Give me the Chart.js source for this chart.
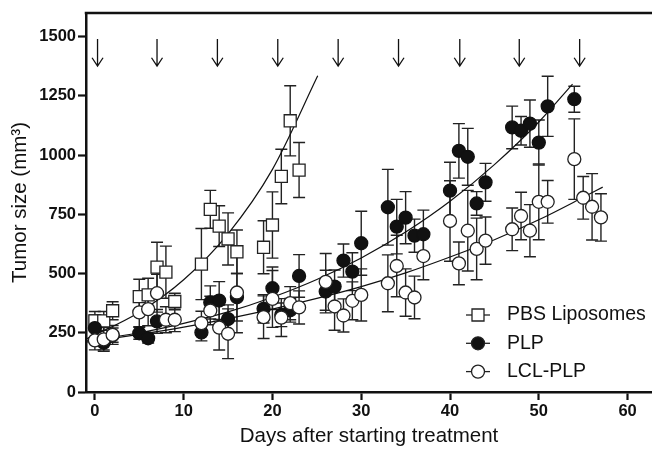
<!DOCTYPE html>
<html>
<head>
<meta charset="utf-8">
<script src="https://cdn.jsdelivr.net/npm/chart.js@4.4.0/dist/chart.umd.min.js"></script>
<style>html,body{margin:0;padding:0;background:#fff}</style>
</head>
<body>
<canvas id="grafTumor" width="652" height="449"></canvas>
<script>
// datos (dias / tamano medio / error)
var seriesNames = ['PBS Liposomes', 'PLP', 'LCL-PLP'];

var pbsDays = [0, 1, 2, 5, 6, 7, 8, 9, 12, 13, 14, 15, 16, 19, 20, 21, 22, 23];
var pbsMean = [300, 300, 343, 403, 410, 527, 506, 382, 540, 771, 700, 646, 592, 611, 705, 910, 1145, 937];
var pbsErr  = [40, 40, 38, 73, 70, 105, 110, 35, 150, 80, 86, 110, 92, 112, 140, 115, 148, 116];

var plpDays = [0, 1, 2, 5, 6, 7, 12, 13, 14, 15, 16, 19, 20, 21, 22, 23, 26, 27, 28, 29, 30, 33, 34, 35, 36, 37, 40, 41, 42, 43, 44, 47, 48, 49, 50, 51, 54];
var plpMean = [270, 208, 240, 248, 227, 298, 251, 378, 386, 308, 400, 351, 438, 326, 345, 490, 424, 445, 555, 508, 628, 780, 698, 736, 660, 666, 850, 1018, 993, 796, 885, 1117, 1103, 1133, 1053, 1206, 1236];
var plpErr  = [55, 30, 30, 25, 20, 50, 35, 70, 80, 60, 100, 60, 90, 50, 50, 90, 90, 70, 70, 80, 135, 160, 115, 110, 70, 102, 120, 115, 120, 50, 80, 90, 60, 100, 95, 127, 55];

var lclDays = [0, 1, 2, 5, 6, 7, 8, 9, 12, 13, 14, 15, 16, 19, 20, 21, 22, 23, 26, 27, 28, 29, 30, 33, 34, 35, 36, 37, 40, 41, 42, 43, 44, 47, 48, 49, 50, 51, 54, 55, 56, 57];
var lclMean = [218, 222, 241, 336, 350, 417, 305, 305, 291, 344, 272, 246, 420, 316, 393, 314, 375, 357, 465, 361, 323, 385, 410, 459, 532, 420, 399, 574, 722, 543, 681, 604, 639, 687, 743, 681, 803, 803, 983, 820, 782, 737];
var lclErr  = [40, 50, 40, 60, 70, 80, 55, 50, 50, 60, 95, 105, 170, 90, 120, 80, 70, 70, 120, 100, 70, 80, 110, 120, 130, 100, 90, 100, 170, 90, 170, 130, 100, 90, 100, 110, 160, 90, 170, 90, 140, 100];

// curvas de ajuste
var pbsFitDays = [-1, 5, 10, 15, 20, 25.1];
var pbsFitVals = [223, 337, 474, 668, 940, 1335];
var plpFitDays = [-1, 5, 10, 15, 20, 25, 30, 35, 40, 45, 50, 53.8];
var plpFitVals = [215, 250, 290, 338, 400, 475, 566, 675, 805, 960, 1140, 1300];
var lclFitDays = [-1, 5, 10, 15, 20, 25, 30, 35, 40, 45, 50, 55, 57.2];
var lclFitVals = [210, 243, 274, 310, 350, 395, 445, 503, 570, 643, 727, 822, 865];

// flechas de tratamiento
var arrowDays = [0.3, 7, 13.8, 20.6, 27.4, 34.2, 41.1, 47.8, 54.6];
var arrowTop = 1490;
var arrowTip = 1376;

var xTicks = [0, 10, 20, 30, 40, 50, 60];
var yTicks = [0, 250, 500, 750, 1000, 1250, 1500];

var FONT = "'Liberation Sans', Arial, sans-serif";

function toPts(xs, ys) {
    return xs.map(function (d, i) { return {x: d, y: ys[i]}; });
}

var series = [
    {days: pbsDays, mean: pbsMean, err: pbsErr, style: 'rect', fill: '#fff'},
    {days: plpDays, mean: plpMean, err: plpErr, style: 'circle', fill: '#111'},
    {days: lclDays, mean: lclMean, err: lclErr, style: 'circle', fill: '#fff'}
];

function drawMarker(ctx, style, x, y, fill) {
    ctx.beginPath();
    if (style === 'rect') {
        ctx.rect(x - 6, y - 6, 12, 12);
    } else {
        ctx.arc(x, y, 6.5, 0, Math.PI * 2);
    }
    ctx.fillStyle = fill;
    ctx.fill();
    ctx.lineWidth = 1.3;
    ctx.strokeStyle = '#222';
    ctx.stroke();
}

var extras = {
    id: 'extras',
    beforeDatasetsDraw: function (chart) {
        var ctx = chart.ctx, x = chart.scales.x, y = chart.scales.y;
        ctx.save();
        ctx.strokeStyle = '#222';
        ctx.lineWidth = 1.4;
        series.forEach(function (s) {
            s.days.forEach(function (d, i) {
                var px = x.getPixelForValue(d);
                var top = y.getPixelForValue(s.mean[i] + s.err[i]);
                var bot = y.getPixelForValue(Math.max(s.mean[i] - s.err[i], 0));
                ctx.beginPath();
                ctx.moveTo(px, top); ctx.lineTo(px, bot);
                ctx.moveTo(px - 6, top); ctx.lineTo(px + 6, top);
                ctx.moveTo(px - 6, bot); ctx.lineTo(px + 6, bot);
                ctx.stroke();
            });
        });
        ctx.restore();
    },
    afterDraw: function (chart) {
        var ctx = chart.ctx, x = chart.scales.x, y = chart.scales.y, area = chart.chartArea;
        ctx.save();
        // borde superior
        ctx.strokeStyle = '#111';
        ctx.lineWidth = 2.5;
        ctx.beginPath();
        ctx.moveTo(area.left - 1.25, area.top);
        ctx.lineTo(area.right, area.top);
        ctx.stroke();

        // flechas
        ctx.lineWidth = 1.3;
        ctx.strokeStyle = '#111';
        arrowDays.forEach(function (d) {
            var px = x.getPixelForValue(d);
            var t = y.getPixelForValue(arrowTop);
            var b = y.getPixelForValue(arrowTip);
            ctx.beginPath();
            ctx.moveTo(px, t); ctx.lineTo(px, b);
            ctx.moveTo(px - 5.5, b - 8.3); ctx.lineTo(px, b); ctx.lineTo(px + 5.5, b - 8.3);
            ctx.stroke();
        });

        // leyenda
        var mx = area.right - 174;
        var rowY = area.bottom - 77;
        ctx.font = '19.5px ' + FONT;
        ctx.textBaseline = 'middle';
        ctx.textAlign = 'left';
        series.forEach(function (s, i) {
            var yy = rowY + i * 28.3;
            ctx.strokeStyle = '#222';
            ctx.lineWidth = 1.3;
            ctx.beginPath();
            ctx.moveTo(mx - 12, yy); ctx.lineTo(mx + 12, yy);
            ctx.stroke();
            drawMarker(ctx, s.style, mx, yy, s.fill);
            ctx.fillStyle = '#111';
            ctx.fillText(seriesNames[i], mx + 29, yy);
        });
        ctx.restore();
    }
};

var fitStyle = {showLine: true, pointRadius: 0, borderColor: '#111', borderWidth: 1.2,
    cubicInterpolationMode: 'monotone', fill: false, order: 4};

function plainLabel(v) { return String(v); }

var ctx = document.getElementById('grafTumor');
var myChart = new Chart(ctx, {
    type: 'scatter',
    data: {
        datasets: [
            {label: seriesNames[0], data: toPts(pbsDays, pbsMean), pointStyle: 'rect', pointRadius: 8.5,
                backgroundColor: '#fff', borderColor: '#222', borderWidth: 1.3, order: 3},
            {label: seriesNames[1], data: toPts(plpDays, plpMean), pointStyle: 'circle', pointRadius: 6.5,
                backgroundColor: '#111', borderColor: '#111', borderWidth: 1.3, order: 2},
            {label: seriesNames[2], data: toPts(lclDays, lclMean), pointStyle: 'circle', pointRadius: 6.5,
                backgroundColor: '#fff', borderColor: '#222', borderWidth: 1.3, order: 1},
            Object.assign({label: 'fit PBS', data: toPts(pbsFitDays, pbsFitVals)}, fitStyle),
            Object.assign({label: 'fit PLP', data: toPts(plpFitDays, plpFitVals)}, fitStyle),
            Object.assign({label: 'fit LCL', data: toPts(lclFitDays, lclFitVals)}, fitStyle)
        ]
    },
    options: {
        responsive: false,
        animation: false,
        devicePixelRatio: 1,
        layout: {autoPadding: false, padding: {top: 13, right: 0, left: 0, bottom: 0}},
        plugins: {legend: {display: false}, tooltip: {enabled: false}},
        scales: {
            x: {
                type: 'linear', min: -1, max: 62.75,
                afterBuildTicks: function (s) { s.ticks = xTicks.map(function (v) { return {value: v}; }); },
                afterFit: function (s) { s.height = 57; s.paddingLeft = 0; s.paddingRight = 0; },
                border: {color: '#111', width: 2.5},
                grid: {drawOnChartArea: false, drawTicks: true, tickLength: 8, tickWidth: 2.2, tickColor: '#111'},
                ticks: {font: {family: FONT, size: 16.5, weight: 'bold'}, color: '#111', padding: 2,
                    maxRotation: 0, callback: plainLabel},
                title: {display: true, text: 'Days after starting treatment', color: '#111',
                    font: {family: FONT, size: 20.5}, padding: {top: 0, bottom: 0}}
            },
            y: {
                min: 0, max: 1600,
                afterBuildTicks: function (s) { s.ticks = yTicks.map(function (v) { return {value: v}; }); },
                afterFit: function (s) { s.width = 86; s.paddingTop = 0; s.paddingBottom = 0; },
                border: {color: '#111', width: 2.5},
                grid: {drawOnChartArea: false, drawTicks: true, tickLength: 8, tickWidth: 2.2, tickColor: '#111'},
                ticks: {font: {family: FONT, size: 16.5, weight: 'bold'}, color: '#111', padding: 2,
                    callback: plainLabel},
                title: {display: true, text: 'Tumor size (mm³)', color: '#111',
                    font: {family: FONT, size: 20.5}, padding: {top: 8, bottom: 0}}
            }
        }
    },
    plugins: [extras]
});
</script>
</body>
</html>
